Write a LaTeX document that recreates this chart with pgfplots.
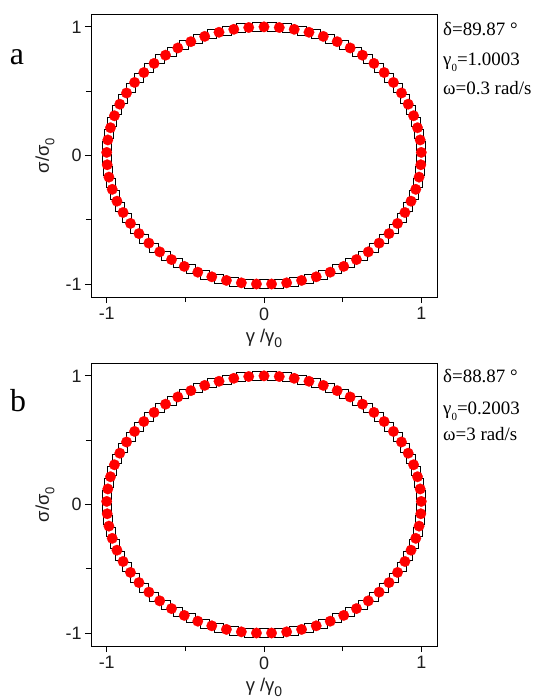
\documentclass[border=0pt]{standalone}
\usepackage{fontspec}
\setmainfont{Liberation Serif}
\setsansfont{Liberation Sans}
\usepackage{pgfplots}
\usepackage{pgfplotstable}
\pgfplotsset{compat=1.18}

% normalised stress (sigma/sigma_0) against normalised strain (gamma/gamma_0), one loop per period
\pgfplotstableread{
x y
0.000 1.000
0.097 0.995
0.192 0.981
0.286 0.958
0.377 0.926
0.465 0.885
0.548 0.836
0.626 0.780
0.699 0.716
0.764 0.645
0.823 0.568
0.874 0.486
0.917 0.399
0.951 0.309
0.976 0.216
0.993 0.121
1.000 0.024
0.997 -0.072
0.986 -0.168
0.965 -0.263
0.935 -0.355
0.896 -0.443
0.849 -0.528
0.795 -0.607
0.732 -0.681
0.663 -0.749
0.588 -0.809
0.507 -0.862
0.421 -0.907
0.332 -0.943
0.239 -0.971
0.144 -0.990
0.048 -0.999
-0.048 -0.999
-0.144 -0.990
-0.239 -0.971
-0.332 -0.943
-0.421 -0.907
-0.507 -0.862
-0.588 -0.809
-0.663 -0.749
-0.732 -0.681
-0.795 -0.607
-0.849 -0.528
-0.896 -0.443
-0.935 -0.355
-0.965 -0.263
-0.986 -0.168
-0.997 -0.072
-1.000 0.024
-0.993 0.121
-0.976 0.216
-0.951 0.309
-0.917 0.399
-0.874 0.486
-0.823 0.568
-0.764 0.645
-0.699 0.716
-0.626 0.780
-0.548 0.836
-0.465 0.885
-0.377 0.926
-0.286 0.958
-0.192 0.981
-0.097 0.995
}\fitdata

\pgfplotstableread{
x y
0.000 -1.000
0.097 -0.995
0.192 -0.981
0.286 -0.958
0.377 -0.926
0.465 -0.885
0.548 -0.836
0.626 -0.780
0.699 -0.716
0.764 -0.645
0.823 -0.568
0.874 -0.486
0.917 -0.399
0.951 -0.309
0.976 -0.216
0.993 -0.121
1.000 -0.024
0.997 0.072
0.986 0.168
0.965 0.263
0.935 0.355
0.896 0.443
0.849 0.528
0.795 0.607
0.732 0.681
0.663 0.749
0.588 0.809
0.507 0.862
0.421 0.907
0.332 0.943
0.239 0.971
0.144 0.990
0.048 0.999
-0.048 0.999
-0.144 0.990
-0.239 0.971
-0.332 0.943
-0.421 0.907
-0.507 0.862
-0.588 0.809
-0.663 0.749
-0.732 0.681
-0.795 0.607
-0.849 0.528
-0.896 0.443
-0.935 0.355
-0.965 0.263
-0.986 0.168
-0.997 0.072
-1.000 -0.024
-0.993 -0.121
-0.976 -0.216
-0.951 -0.309
-0.917 -0.399
-0.874 -0.486
-0.823 -0.568
-0.764 -0.645
-0.699 -0.716
-0.626 -0.780
-0.548 -0.836
-0.465 -0.885
-0.377 -0.926
-0.286 -0.958
-0.192 -0.981
-0.097 -0.995
}\measdata

\definecolor{ticktext}{RGB}{30,30,30}

\pgfplotsset{
  lissajous/.style={
    anchor=north west,
    scale only axis,
    width=346bp, height=283bp,
    xmin=-1.1, xmax=1.1, ymin=-1.1, ymax=1.1,
    xtick={-1,0,1}, ytick={-1,0,1},
    xticklabels={{-1},{0},{1}}, yticklabels={{-1},{0},{1}},
    minor xtick={-0.5,0.5}, minor ytick={-0.5,0.5},
    xtick pos=bottom, ytick pos=left,
    tick align=outside,
    major tick length=6bp, minor tick length=5bp,
    every tick/.style={black, line width=0.8bp},
    axis line style={line width=1bp},
    tick label style={font=\fontsize{18}{18}\selectfont\sffamily, text=ticktext},
    xticklabel style={yshift=-1bp},
    clip=false,
    every axis x label/.style={at={(axis description cs:0.5,0)}, anchor=base, yshift=-45bp,
      font=\fontsize{18.5}{18.5}\selectfont\sffamily, text=ticktext},
    every axis y label/.style={at={(axis description cs:-0.133,0.5)}, rotate=90, anchor=center,
      font=\fontsize{18.5}{18.5}\selectfont\sffamily, text=ticktext},
    xlabel={γ /γ\raisebox{-0.3em}{\fontsize{14}{14}\selectfont 0}},
    ylabel={σ/σ\raisebox{-0.3em}{\fontsize{13}{13}\selectfont 0}},
  },
  meas/.style={only marks, mark=square, mark size=4.5bp,
    mark options={draw=black, fill=white, line width=0.8bp}},
  fit/.style={only marks, mark=*, mark size=5.3bp,
    mark options={draw=red, fill=red, line width=0.2bp}},
}

\begin{document}
\begin{tikzpicture}
\path[use as bounding box] (0,0) rectangle (548bp,-698bp);

% panel a
\begin{axis}[lissajous, at={(91bp,-14bp)}]
  \addplot[meas] table[x=x, y=y] {\measdata};
  \addplot[fit] table[x=x, y=y] {\fitdata};
\end{axis}

% panel b
\begin{axis}[lissajous, at={(91bp,-363bp)}]
  \addplot[meas] table[x=x, y=y] {\measdata};
  \addplot[fit] table[x=x, y=y] {\fitdata};
\end{axis}

% panel letters
\node[anchor=base, font=\fontsize{32}{32}\selectfont] at (17bp,-64bp) {a};
\node[anchor=base, font=\fontsize{32}{32}\selectfont] at (18bp,-411bp) {b};

% test conditions
\begin{scope}[every node/.style={anchor=base west, inner sep=0pt, font=\fontsize{19}{19}\selectfont}]
\node at (443bp,-35bp) {δ=89.87 °};
\node at (443bp,-65bp) {γ\raisebox{-0.35em}{\fontsize{11}{11}\selectfont 0}=1.0003};
\node at (443bp,-94bp) {ω=0.3 rad/s};
\node at (443bp,-382bp) {δ=88.87 °};
\node at (443bp,-414bp) {γ\raisebox{-0.35em}{\fontsize{11}{11}\selectfont 0}=0.2003};
\node at (443bp,-440bp) {ω=3 rad/s};
\end{scope}
\end{tikzpicture}
\end{document}
